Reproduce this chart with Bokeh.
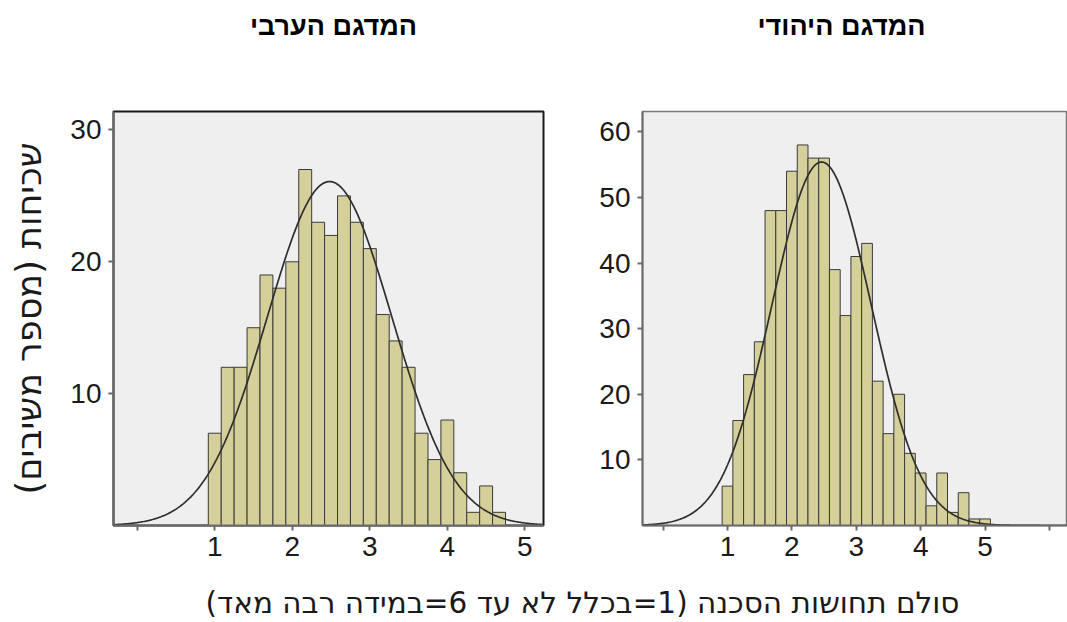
import numpy as np
from bokeh.plotting import figure
from bokeh.layouts import column, row
from bokeh.models import Label, FixedTicker
from bokeh.embed import file_html
from bokeh.resources import INLINE

# ---------------- data ----------------
bin_width = 1.0 / 6.0
arab_first_center = 1.0
arab_counts = [7, 12, 12, 15, 19, 18, 20, 27, 23, 22, 25, 23, 21, 16, 14, 12, 7, 5, 8, 4, 1, 3, 1]
jew_first_center = 1.0
jew_counts = [6, 16, 23, 28, 48, 48, 54, 58, 56, 56, 39, 32, 41, 43, 22, 14, 20, 11, 8, 3, 8, 2, 5, 1, 1]

title_arab = "\u200fהמדגם הערבי\u200f"
title_jew = "\u200fהמדגם היהודי\u200f"
y_label = "\u200fשכיחות (מספר משיבים)\u200f"
x_label = "\u200fסולם תחושות הסכנה (1=בכלל לא עד 6=במידה רבה מאד)\u200f"
x_ticks_arab = [0, 1, 2, 3, 4, 5]
x_ticks_jew = [0, 1, 2, 3, 4, 5, 6]
y_ticks_arab = [10, 20, 30]
y_ticks_jew = [10, 20, 30, 40, 50, 60]

FONT = "Liberation Sans, Arimo, DejaVu Sans"
HEB_FONT = "DejaVu Sans"
BAR_FILL = "#d5d09a"
BG = "#efefef"

W_TOTAL, H_TOTAL = 1067, 622
H_HEAD = 50          # title strip
H_FOOT = 44          # x-label strip
H_MID = H_TOTAL - H_HEAD - H_FOOT


def strip(height):
    s = figure(width=W_TOTAL, height=height, output_backend="svg", toolbar_location=None,
               min_border=0, x_range=(0, 1), y_range=(0, 1),
               x_axis_location=None, y_axis_location=None)
    s.grid.visible = False
    s.outline_line_color = None
    return s


def make_panel(counts, first_center, xr, yr, width, mb_left, mb_right, frame_top, frame_bottom,
               xticks, yticks, outline_color, outline_width):
    counts = np.array(counts, dtype=float)
    centers = first_center + bin_width * np.arange(len(counts))
    p = figure(width=width, height=H_MID, x_range=xr, y_range=yr,
               output_backend="svg", toolbar_location=None,
               min_border_left=mb_left, min_border_right=mb_right,
               min_border_top=frame_top - H_HEAD,
               min_border_bottom=H_HEAD + H_MID - frame_bottom)
    p.background_fill_color = BG
    p.border_fill_color = "white"
    p.grid.visible = False
    p.outline_line_color = outline_color
    p.outline_line_width = outline_width

    p.quad(left=centers - bin_width / 2, right=centers + bin_width / 2,
           bottom=0, top=counts, fill_color=BAR_FILL, line_color="#3a3a3a", line_width=1)

    # fitted normal curve computed from the histogram itself
    n = counts.sum()
    mean = (counts * centers).sum() / n
    sd = np.sqrt((counts * (centers - mean) ** 2).sum() / n)
    xs = np.linspace(xr[0], xr[1], 400)
    ys = n * bin_width * np.exp(-0.5 * ((xs - mean) / sd) ** 2) / (sd * np.sqrt(2 * np.pi))
    p.line(xs, ys, line_color="#2e2e2e", line_width=1.7)

    for ax in (p.xaxis[0], p.yaxis[0]):
        ax.axis_line_color = "#6a6a6a"
        ax.axis_line_width = 2
        ax.major_tick_line_color = "#6a6a6a"
        ax.major_tick_line_width = 2
        ax.major_tick_out = 5
        ax.major_tick_in = 0
        ax.minor_tick_line_color = None
        ax.major_label_text_font = FONT
        ax.major_label_text_font_size = "28px"
        ax.major_label_text_color = "#1a1a1a"
    p.xaxis.ticker = FixedTicker(ticks=xticks)
    p.xaxis.major_label_overrides = {t: ("" if t in (0, 6) else str(t)) for t in xticks}
    p.xaxis.major_label_standoff = 6
    p.yaxis.ticker = FixedTicker(ticks=yticks)
    p.yaxis.major_label_standoff = 7
    return p


# title strip
head = strip(H_HEAD)
for cx, txt in ((333, title_arab), (841, title_jew)):
    head.add_layout(Label(x=cx, y=H_HEAD - 25, x_units="screen", y_units="screen", text=txt,
                          text_font=FONT, text_font_style="bold", text_font_size="27px",
                          text_align="center", text_baseline="middle", text_color="black"))

# left panel (Arab sample): frame at x 113..543, y 110..525
p1 = make_panel(arab_counts, arab_first_center, (-0.306, 5.24), (0, 31.4), 590,
                113, 47, 110, 525, x_ticks_arab, y_ticks_arab, "#1a1a1a", 2)
p1.yaxis.axis_label = y_label
p1.yaxis.axis_label_text_font = HEB_FONT
p1.yaxis.axis_label_text_font_size = "35px"
p1.yaxis.axis_label_text_font_style = "normal"
p1.yaxis.axis_label_text_color = "#1a1a1a"
p1.yaxis.axis_label_standoff = 18

# right panel (Jewish sample): frame at x 642..1067, y 111..528
p2 = make_panel(jew_counts, jew_first_center, (-0.32, 6.28), (0, 63.1), W_TOTAL - 590,
                52, 0, 111, 528, x_ticks_jew, y_ticks_jew, "#7a7a7a", 1.5)

# shared x label strip
foot = strip(H_FOOT)
foot.add_layout(Label(x=582, y=H_TOTAL - 602, x_units="screen", y_units="screen", text=x_label,
                      text_font=HEB_FONT, text_font_size="29.5px",
                      text_align="center", text_baseline="middle", text_color="#1a1a1a"))

layout = column(head, row(p1, p2), foot)
open("out.html", "w").write(file_html(layout, INLINE))
